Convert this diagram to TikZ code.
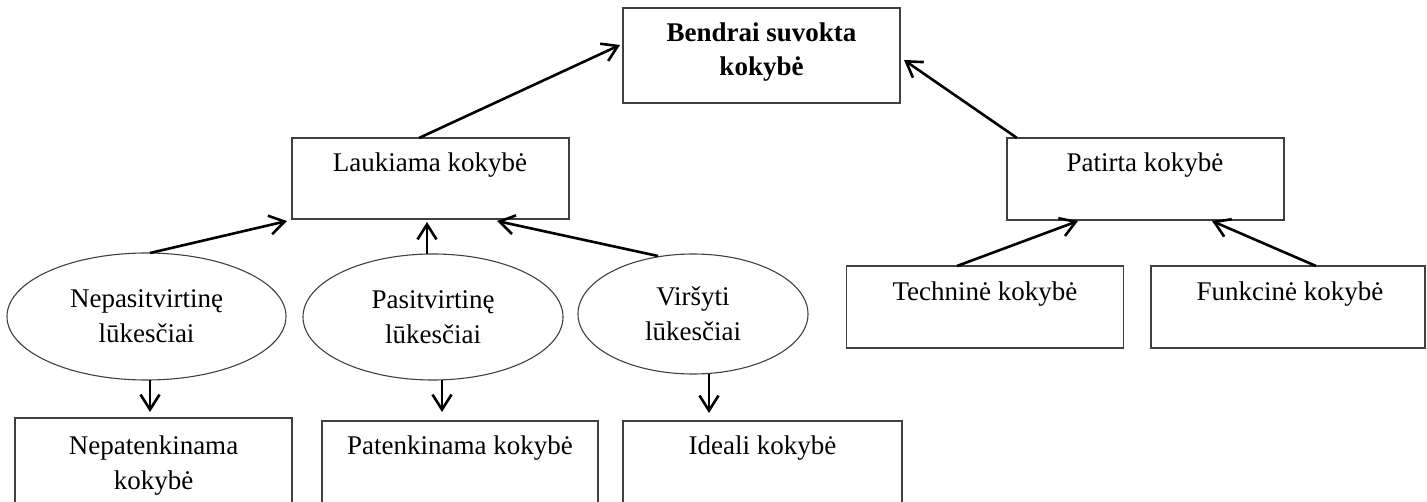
\documentclass[tikz,border=0pt]{standalone}
\usepackage{fontspec}
\setmainfont{Liberation Serif}
\usetikzlibrary{shapes.geometric,arrows.meta}
\begin{document}
\begin{tikzpicture}[x=1pt,y=-1pt,
  frame/.style={draw=black!75,line width=1.1pt,rectangle,inner sep=0pt,outer sep=0pt,minimum width=277pt},
  oval/.style={draw=black!75,line width=1.1pt,ellipse,inner sep=0pt,outer sep=0pt,align=center,font=\fontsize{27}{35}\selectfont},
  lbl/.style={anchor=base,inner sep=0pt,font=\fontsize{27}{35}\selectfont},
  arr/.style={line width=2.6pt,-{Straight Barb[length=15pt,width=19pt]}}
]
\useasboundingbox (0,0) rectangle (1427,502);
\clip (0,0) rectangle (1427,502);

% boxes
\node[frame,minimum height=95pt] (bendrai) at (761.5,55.5) {};
\node[frame,minimum height=81pt] (laukiama) at (430.5,178.5) {};
\node[frame,minimum height=82pt] (patirta) at (1145.5,179) {};
\node[frame,minimum height=82pt] (tech) at (985,307) {};
\node[frame,minimum height=82pt,minimum width=274pt] (funk) at (1288,307) {};
\node[frame,minimum height=88pt] (nepat) at (153.5,462) {};
\node[frame,minimum height=85pt,minimum width=276pt] (patenk) at (460,463.5) {};
\node[frame,minimum height=85pt,minimum width=279pt] (ideali) at (762.5,463.5) {};

% ellipses
\node[oval,minimum width=279pt,minimum height=127pt] (nep) at (146.5,316.5) {Nepasitvirtinę\\lūkesčiai};
\node[oval,minimum width=260pt,minimum height=126pt] (pas) at (433,317) {Pasitvirtinę\\lūkesčiai};
\node[oval,minimum width=230pt,minimum height=120pt] (virs) at (693,314) {Viršyti\\lūkesčiai};

% box texts
\node[lbl,font=\bfseries\fontsize{27}{34}\selectfont] (tbendrai) at (761.5,42) {\begin{tabular}[t]{@{}c@{}}Bendrai suvokta\\kokybė\end{tabular}};
\node[lbl] (tlaukiama) at (430,172) {Laukiama kokybė};
\node[lbl] (tpatirta) at (1145,172) {Patirta kokybė};
\node[lbl] (ttech) at (985,301) {Techninė kokybė};
\node[lbl] (tfunk) at (1290,301) {Funkcinė kokybė};
\node[lbl] (tnepat) at (153.5,454) {\begin{tabular}[t]{@{}c@{}}Nepatenkinama\\kokybė\end{tabular}};
\node[lbl] (tpatenk) at (460,454) {Patenkinama kokybė};
\node[lbl] (tideali) at (762.5,454) {Ideali kokybė};

% connectors
\draw[arr] ([xshift=-11.5pt]laukiama.north) -- ([xshift=-3pt,yshift=10.5pt]bendrai.west);
\draw[arr] ([xshift=10pt]patirta.north west) -- ([xshift=4pt,yshift=-4.5pt]bendrai.east);
\draw[arr] ([xshift=3.5pt]nep.north) -- ([xshift=-5pt,yshift=-2pt]laukiama.south west);
\draw[arr] ([xshift=-6pt]pas.north) -- ([xshift=-3.5pt,yshift=-3pt]laukiama.south);
\draw[arr] ([xshift=-35pt,yshift=-2pt]virs.north) -- ([xshift=-72pt,yshift=-2pt]laukiama.south east);
\draw[arr] ([xshift=-28pt]tech.north) -- ([xshift=-67.5pt,yshift=-1pt]patirta.south);
\draw[arr] ([xshift=28pt]funk.north) -- ([xshift=66.5pt,yshift=-1pt]patirta.south);
\draw[arr] ([xshift=3.5pt]nep.south) -- ([xshift=-3.5pt,yshift=6pt]nepat.north);
\draw[arr] ([xshift=9pt]pas.south) -- ([xshift=-18pt,yshift=9pt]patenk.north);
\draw[arr] ([xshift=16pt]virs.south) -- ([xshift=-53.5pt,yshift=8pt]ideali.north);
\end{tikzpicture}
\end{document}
